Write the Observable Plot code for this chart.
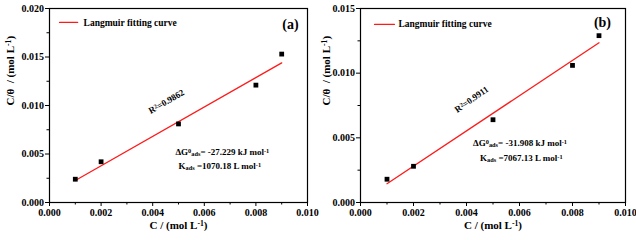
<!DOCTYPE html>
<html>
<head>
<meta charset="utf-8">
<script src="https://cdn.jsdelivr.net/npm/d3@7"></script>
<script src="https://cdn.jsdelivr.net/npm/@observablehq/plot@0.6"></script>
<style>
  html, body { margin: 0; padding: 0; background: #fff; }
  #wrap { display: flex; width: 636px; height: 240px; }
  svg { overflow: visible !important; background: transparent !important; }
  svg, svg text { font-family: "Liberation Serif", "Times New Roman", serif !important; font-weight: bold; }
</style>
</head>
<body>
<div id="wrap"></div>
<script>
// ---- data ----
const concentration = [0.001, 0.002, 0.005, 0.008, 0.009];
const cThetaA = [0.0024, 0.0042, 0.0081, 0.0121, 0.0153];
const cThetaB = [0.0018, 0.0028, 0.0064, 0.0106, 0.0129];
const fitXA = [0.001, 0.009];
const fitYA = [0.00227, 0.0144];
const fitXB = [0.001, 0.009];
const fitYB = [0.00145, 0.01235];
const xTicks = [0, 0.002, 0.004, 0.006, 0.008, 0.010];
const xMinor = [0.001, 0.003, 0.005, 0.007, 0.009];
const yTicksA = [0, 0.005, 0.010, 0.015, 0.020];
const yMinorA = [0.0025, 0.0075, 0.0125, 0.0175];
const yTicksB = [0, 0.005, 0.010, 0.015];
const yMinorB = [0.0025, 0.0075, 0.0125];
const legendLabel = "Langmuir fitting curve";
const xLabel = "C / (mol L^{-1})";
const yLabel = "C/θ  / (mol L^{-1})";
const panelTags = ["(a)", "(b)"];
const r2Labels = ["R^{2}=0.9862", "R^{2}=0.9911"];
const dGLabels = ["ΔG^{0}_{ads}= -27.229 kJ mol^{-1}", "ΔG^{0}_{ads}= -31.908 kJ mol^{-1}"];
const kLabels = ["K_{ads} =1070.18 L mol^{-1}", "K_{ads} =7067.13 L mol^{-1}"];

const fmt = d3.format(".3f");

function richText(svg) {
  svg.querySelectorAll("text").forEach(t => {
    const s = t.textContent;
    if (!/[\^_]\{/.test(s)) return;
    while (t.firstChild) t.removeChild(t.firstChild);
    const re = /([\^_])\{([^}]*)\}/g;
    let last = 0, m;
    const add = (str, kind) => {
      if (!str) return;
      const ts = document.createElementNS("http://www.w3.org/2000/svg", "tspan");
      ts.textContent = str;
      if (kind === "^") { ts.setAttribute("baseline-shift", "38%"); ts.setAttribute("font-size", "70%"); }
      if (kind === "_") { ts.setAttribute("baseline-shift", "-22%"); ts.setAttribute("font-size", "70%"); }
      t.appendChild(ts);
    };
    while ((m = re.exec(s))) {
      add(s.slice(last, m.index), null);
      add(m[2], m[1]);
      last = re.lastIndex;
    }
    add(s.slice(last), null);
  });
}

function panel(opts) {
  const pts = concentration.map((c, i) => ({x: c, y: opts.vals[i]}));
  const fit = opts.fitX.map((x, i) => ({x, y: opts.fitY[i]}));
  const svg = Plot.plot({
    width: opts.width, height: 240,
    marginLeft: opts.ml, marginRight: opts.mr, marginTop: 8, marginBottom: 38,
    style: {fontSize: "10px", fontFamily: '"Liberation Serif", "Times New Roman", serif', fontWeight: "bold", color: "black", background: "transparent", overflow: "visible"},
    x: {domain: [0, 0.010]},
    y: {domain: opts.yDomain},
    marks: [
      Plot.axisX({ticks: xTicks, tickFormat: fmt, tickSize: 4, tickPadding: 2, label: null, fontSize: 10}),
      Plot.axisX({ticks: xMinor, tickFormat: () => "", tickSize: 2.5, label: null}),
      Plot.axisY({ticks: opts.yTicks, tickFormat: fmt, tickSize: 4, tickPadding: 1.5, label: null, fontSize: 10}),
      Plot.axisY({ticks: opts.yMinor, tickFormat: () => "", tickSize: 2.5, label: null}),
      Plot.frame({stroke: "black", strokeWidth: 1.2}),
      Plot.line(fit, {x: "x", y: "y", stroke: "#ff1a1a", strokeWidth: 1.3}),
      Plot.dot(pts, {x: "x", y: "y", symbol: "square", r: 2.7, fill: "black", stroke: "none"}),
      Plot.line(opts.legLine, {x: "x", y: "y", stroke: "#ff1a1a", strokeWidth: 1.3}),
      Plot.text([legendLabel], {x: opts.legText.x, y: opts.legText.y, textAnchor: "start", fontSize: 9.5, fontWeight: "bold"}),
      Plot.text([opts.tag], {x: opts.tagPos.x, y: opts.tagPos.y, fontSize: 14, fontWeight: "bold"}),
      Plot.text([opts.r2], {x: opts.r2Pos.x, y: opts.r2Pos.y, rotate: opts.r2Rot, fontSize: 9, fontWeight: "bold"}),
      Plot.text([opts.dG], {x: opts.dGPos.x, y: opts.dGPos.y, fontSize: 9, fontWeight: "bold"}),
      Plot.text([opts.k], {x: opts.kPos.x, y: opts.kPos.y, fontSize: 9, fontWeight: "bold"}),
      Plot.text([xLabel], {frameAnchor: "bottom", dy: 26, fontSize: 11, fontWeight: "bold"}),
      Plot.text([yLabel], {frameAnchor: "left", dx: -opts.ml + 10, rotate: -90, fontSize: 11, fontWeight: "bold"})
    ]
  });
  richText(svg);
  return svg;
}

const wrap = document.getElementById("wrap");
const pa = panel({
  width: 316, ml: 49, mr: 9,
  vals: cThetaA, fitX: fitXA, fitY: fitYA,
  yDomain: [0, 0.020], yTicks: yTicksA, yMinor: yMinorA,
  legLine: [{x: 0.00039, y: 0.01856}, {x: 0.00109, y: 0.01856}],
  legText: {x: 0.00132, y: 0.01856},
  tag: panelTags[0], tagPos: {x: 0.00934, y: 0.0183},
  r2: r2Labels[0], r2Pos: {x: 0.00453, y: 0.0104}, r2Rot: -30,
  dG: dGLabels[0], dGPos: {x: 0.0067, y: 0.00515},
  k: kLabels[0], kPos: {x: 0.0066, y: 0.0038}
});
pa.style.position = "relative";
pa.style.zIndex = "2";
wrap.appendChild(pa);
wrap.appendChild(panel({
  width: 320, ml: 44, mr: 11,
  vals: cThetaB, fitX: fitXB, fitY: fitYB,
  yDomain: [0, 0.015], yTicks: yTicksB, yMinor: yMinorB,
  legLine: [{x: 0.00053, y: 0.01377}, {x: 0.00128, y: 0.01377}],
  legText: {x: 0.00143, y: 0.01377},
  tag: panelTags[1], tagPos: {x: 0.00913, y: 0.0139},
  r2: r2Labels[1], r2Pos: {x: 0.00419, y: 0.00797}, r2Rot: -35,
  dG: dGLabels[1], dGPos: {x: 0.00602, y: 0.00456},
  k: kLabels[1], kPos: {x: 0.00607, y: 0.0034}
}));
</script>
</body>
</html>
